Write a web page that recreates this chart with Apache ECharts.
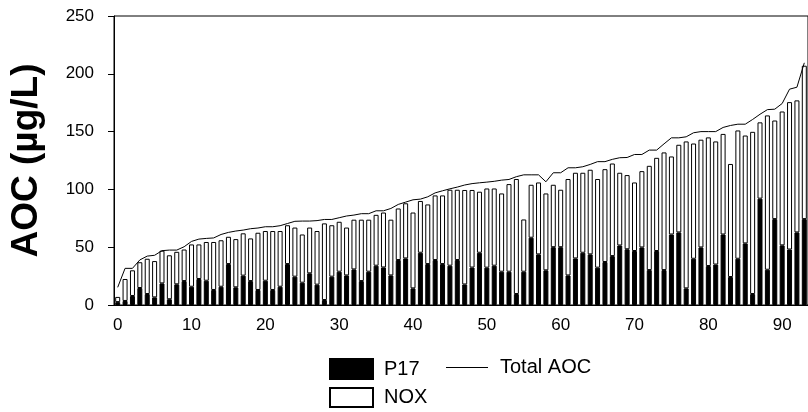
<!DOCTYPE html>
<html>
<head>
<meta charset="utf-8">
<title>AOC</title>
<script src="https://cdn.jsdelivr.net/npm/echarts@6/dist/echarts.min.js"></script>
<style>
  html, body { margin: 0; padding: 0; background: #fff; }
  #chart { width: 808px; height: 412px; }
</style>
</head>
<body>
<div id="chart"></div>
<script>
// P17 part of each bar (black)
const p17 = [
  2.5, 3.5, 7.8, 14.7, 9.5, 6.6, 18.7, 5, 17.9, 20.7,
  15.8, 22.5, 21, 13, 15.8, 35.4, 15.3, 25.4, 20.7, 13,
  21, 13, 15.8, 35.4, 24.5, 19.3, 27.4, 17.6, 4.3, 24.5,
  28.8, 25.6, 30.8, 20.7, 28.8, 34, 32.5, 25.6, 38.9, 40.3,
  14.4, 45.2, 35.4, 38.9, 35.4, 34, 38.9, 17.8, 32.4, 45.2,
  32.3, 34, 28.8, 28.8, 9.5, 28.8, 58.2, 43.8, 30, 50,
  50, 25.6, 40.3, 45.2, 43.8, 32.3, 37.2, 42.3, 51.5, 48.2,
  46.7, 49.8, 30.2, 46.7, 30.2, 61, 62.8, 14.4, 40, 49.8,
  33.7, 35, 61, 24.2, 40, 53.3, 9.5, 92, 30.5, 74.3,
  51.6, 48, 62.8, 74.3
];
// top of each stacked bar (P17 + NOX)
const barTop = [
  7, 22.5, 30, 37, 40, 38, 47, 43, 46, 48,
  52.4, 52.4, 54.5, 54.5, 56, 59, 57, 62, 57.6, 62.5,
  64, 64, 64, 69, 67, 61, 67, 64, 70.6, 69,
  72, 67, 73.8, 73.8, 73.8, 78, 80, 73.8, 83.5, 88,
  80, 90, 87, 94.8, 94.8, 99.7, 99.7, 99.5, 99.5, 98,
  100.8, 100.8, 96.5, 104.6, 109, 74, 104, 106, 96.5, 104,
  99.7, 109, 114.4, 114.4, 117, 109, 117.5, 122.4, 114.4, 112.4,
  106, 115.8, 120.4, 127.3, 132, 128.5, 138.6, 141.5, 139.7, 143,
  145, 141.5, 148, 122, 151, 146.6, 149.8, 158, 164, 159.6,
  167.4, 175.5, 177, 207
];
const totalAOC = [
  15.3, 31.7, 31.7, 39, 42.3, 43, 47, 47.5, 47.5, 50.4,
  55, 57, 57.6, 58, 61, 62.8, 64, 64.8, 66, 66.6,
  67.7, 67.7, 68.6, 70.5, 72.4, 72.6, 72.6, 73, 74, 74,
  75.5, 77, 77.8, 79, 79, 81.5, 81.5, 83.5, 87, 89,
  91, 91.6, 93.6, 97, 98.8, 100.5, 102, 103.8, 105, 105.7,
  106.3, 107, 108, 108.6, 111, 112.6, 112.6, 112.6, 106.6, 114.4,
  114.4, 118.7, 118.7, 119.6, 121.6, 124, 124, 126, 127.4, 127.6,
  130.2, 130.2, 134, 134, 139.4, 144.6, 144.6, 145.5, 149, 150,
  150, 150, 153.6, 155.3, 156.4, 156.4, 160.5, 165, 169, 169.4,
  174.3, 186.7, 188.4, 209.5
];
const yTicks = [0, 50, 100, 150, 200, 250];

// NOX = the white part above P17
const nox = barTop.map((v, i) => +(v - p17[i]).toFixed(1));
const sampleNo = p17.map((_, i) => String(i));

const font = 'Liberation Sans, Arial, sans-serif';
const chart = echarts.init(document.getElementById('chart'), null, { renderer: 'canvas' });

const legendText = { fontFamily: font, fontSize: 20, color: '#000', padding: [0, 0, 0, 6] };

const option = {
  animation: false,
  grid: {
    left: 114,
    top: 16,
    bottom: 107,
    right: -4,
    show: true,
    borderColor: '#000',
    borderWidth: 1,
    backgroundColor: 'transparent'
  },
  legend: [
    {
      data: [{ name: 'P17', icon: 'rect' }],
      left: 329, top: 358, padding: 0,
      itemWidth: 43, itemHeight: 20, itemGap: 0,
      textStyle: legendText
    },
    {
      data: [{ name: 'Total AOC', icon: 'rect' }],
      left: 446, top: 357.5, padding: 0,
      itemWidth: 42, itemHeight: 1, itemGap: 0,
      textStyle: Object.assign({}, legendText, { padding: [0, 0, 0, 7] })
    },
    {
      data: [{ name: 'NOX', icon: 'rect' }],
      left: 329, top: 387, padding: 0,
      itemWidth: 43, itemHeight: 19, itemGap: 0,
      textStyle: legendText
    }
  ],
  xAxis: {
    type: 'category',
    data: sampleNo,
    boundaryGap: true,
    axisLine: { show: true, lineStyle: { color: '#000', width: 1 } },
    axisTick: { show: false },
    axisLabel: {
      interval: 9,
      margin: 12,
      fontFamily: font,
      fontSize: 17,
      color: '#000'
    },
    splitLine: { show: false }
  },
  yAxis: {
    type: 'value',
    min: yTicks[0],
    max: yTicks[yTicks.length - 1],
    interval: 50,
    name: 'AOC (µg/L)',
    nameLocation: 'middle',
    nameRotate: 90,
    nameGap: 69,
    nameTextStyle: { fontFamily: font, fontSize: 37, fontWeight: 'bold', color: '#000' },
    axisLine: { show: true, lineStyle: { color: '#000', width: 1 } },
    axisTick: { show: true, inside: false, length: 6, lineStyle: { color: '#000' } },
    axisLabel: { margin: 20, fontFamily: font, fontSize: 17, color: '#000' },
    splitLine: { show: false }
  },
  series: [
    {
      name: 'P17',
      type: 'bar',
      stack: 'aoc',
      data: p17,
      barWidth: 5,
      itemStyle: { color: '#000', borderColor: '#000', borderWidth: 1 }
    },
    {
      name: 'NOX',
      type: 'bar',
      stack: 'aoc',
      data: nox,
      barWidth: 5,
      itemStyle: { color: '#fff', borderColor: '#000', borderWidth: 1 }
    },
    {
      name: 'Total AOC',
      type: 'line',
      data: totalAOC,
      symbol: 'none',
      showSymbol: false,
      lineStyle: { color: '#000', width: 1 },
      itemStyle: { color: '#000' },
      z: 5
    }
  ]
};

chart.setOption(option);
window.addEventListener('resize', () => chart.resize());
</script>
</body>
</html>
